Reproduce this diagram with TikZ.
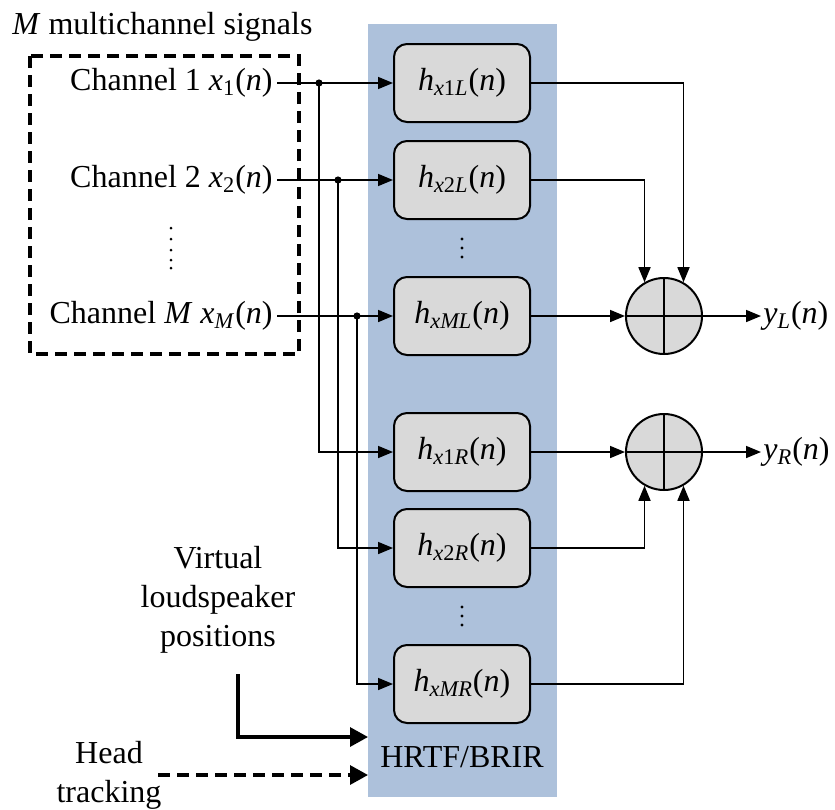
\documentclass[tikz,border=0pt]{standalone}
\usepackage{fontspec}
\setmainfont{Liberation Serif}
\usetikzlibrary{arrows.meta,calc}

\definecolor{bandblue}{RGB}{173,193,219}
\definecolor{boxgray}{RGB}{217,217,217}

% italic signal with subscript, e.g. h_{x1L}(n)
\newcommand{\sgl}[2]{\textit{#1}\textsubscript{#2}(\textit{n})}

\tikzset{
  filt/.style={draw, line width=1pt, rounded corners=6.5pt, fill=boxgray,
    minimum width=68pt, minimum height=39pt, inner sep=0pt},
  sumnode/.style={draw, circle, line width=1pt, fill=boxgray,
    minimum size=38pt, inner sep=0pt},
  sig/.style={-{Triangle[length=7.5pt,width=6pt]}, line width=0.8pt},
  ctrl/.style={-{Triangle[length=9pt,width=9.5pt]}, line width=1.6pt},
  jdot/.style={circle, fill, inner sep=0pt, minimum size=3.6pt},
  dashy/.style={dash pattern=on 6pt off 3.5pt},
}

\begin{document}
\begin{tikzpicture}[x=0.5pt,y=-0.5pt,font=\fontsize{16}{19.5}\selectfont]
\useasboundingbox (0,0) rectangle (835,809);

% HRTF/BRIR band
\fill[bandblue] (368,24) rectangle (557,797);
\node (band) at (462,757) {HRTF/BRIR};

% input signals
\draw[dashy, line width=1.6pt] (30,56) rectangle (299,354);
\node[anchor=base west, inner sep=0pt] (title) at (12,34) {\textit{M} multichannel signals};

\node[anchor=east, inner sep=2pt] (ch1) at (277,83) {Channel 1 \sgl{x}{1}};
\node[anchor=east, inner sep=2pt] (ch2) at (277,180) {Channel 2 \sgl{x}{2}};
\node[anchor=east, inner sep=2pt] (chM) at (277,316) {Channel \textit{M} \sgl{x}{\textit{M}}};
\foreach \y in {228,239,250,260,268}
  \fill (171,\y) circle (0.75pt);

% filters
\node[filt] (h1L) at (462,83) {\sgl{h}{\textit{x}1\textit{L}}};
\node[filt] (h2L) at (462,180) {\sgl{h}{\textit{x}2\textit{L}}};
\node[filt] (hML) at (462,316) {\sgl{h}{\textit{xML}}};
\node[filt] (h1R) at (462,452) {\sgl{h}{\textit{x}1\textit{R}}};
\node[filt] (h2R) at (462,548) {\sgl{h}{\textit{x}2\textit{R}}};
\node[filt] (hMR) at (462,684) {\sgl{h}{\textit{xMR}}};
\foreach \y in {239,248,257,607,616,625}
  \fill (462,\y) circle (0.85pt);

% adders
\node[sumnode] (sL) at (664,316) {};
\node[sumnode] (sR) at (664,452) {};
\draw[line width=0.8pt] (sL.north) -- (sL.south) (sL.west) -- (sL.east);
\draw[line width=0.8pt] (sR.north) -- (sR.south) (sR.west) -- (sR.east);

\node[anchor=west, inner sep=1pt] (yL) at (761,316) {\sgl{y}{\textit{L}}};
\node[anchor=west, inner sep=1pt] (yR) at (761,452) {\sgl{y}{\textit{R}}};

% branch points
\node[jdot] (j1) at (319,83) {};
\node[jdot] (j2) at (338,180) {};
\node[jdot] (jM) at (357,316) {};

\draw[sig] (ch1.east) -- (h1L.west);
\draw[sig] (ch2.east) -- (h2L.west);
\draw[sig] (chM.east) -- (hML.west);
\draw[sig] (j1.center) |- (h1R.west);
\draw[sig] (j2.center) |- (h2R.west);
\draw[sig] (jM.center) |- (hMR.west);

\draw[sig] (h1L.east) -| (sL.60);
\draw[sig] (h2L.east) -| (sL.120);
\draw[sig] (hML.east) -- (sL.west);
\draw[sig] (h1R.east) -- (sR.west);
\draw[sig] (h2R.east) -| (sR.240);
\draw[sig] (hMR.east) -| (sR.300);
\draw[sig] (sL.east) -- (yL.west);
\draw[sig] (sR.east) -- (yR.west);

% control inputs
\node[align=center, inner sep=0pt] (vlp) at (218,600) {Virtual\\loudspeaker\\positions};
\node[align=center, inner sep=0pt] (head) at (109,775) {Head\\tracking};
\coordinate (vlpA) at (238,674);
\coordinate (vlpB) at (368,737);
\coordinate (headA) at (158,775);
\coordinate (headB) at (368,775);
\draw[ctrl] (vlpA) |- (vlpB);
\draw[ctrl, dashy] (headA) -- (headB);

\end{tikzpicture}
\end{document}
